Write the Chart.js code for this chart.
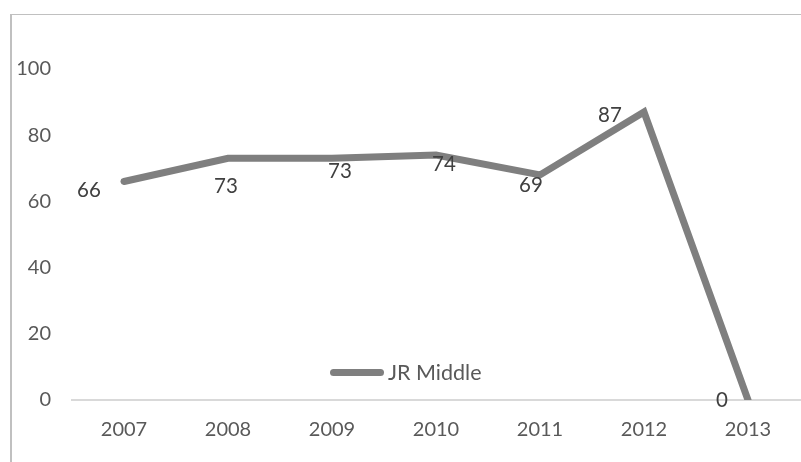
<!DOCTYPE html>
<html>
<head>
<meta charset="utf-8">
<script src="https://cdn.jsdelivr.net/npm/chart.js@4/dist/chart.umd.min.js"></script>
<style>
  html, body { margin: 0; padding: 0; background: #ffffff; }
  #wrap { position: relative; width: 801px; height: 462px; overflow: hidden; }
  #frame { position: absolute; left: 10px; top: 14px; width: 800px; height: 460px;
           border-left: 2px solid #c0c0c0; border-top: 1px solid #c0c0c0; }
  #c { position: absolute; left: 0; top: 0; }
  #legend { position: absolute; left: 330px; top: 359px; height: 26px; display: flex; align-items: center;
            font-family: Lato, sans-serif; font-size: 21.5px; color: #595959; }
  #legend .sw { width: 54px; height: 7px; border-radius: 4px; background: #7f7f7f; margin-right: 4px; }
</style>
</head>
<body>
<div id="wrap">
  <div id="frame"></div>
  <canvas id="c" width="801" height="462"></canvas>
  <div id="legend"><span class="sw"></span><span id="legendText"></span></div>
</div>
<script>
const years = ['2007', '2008', '2009', '2010', '2011', '2012', '2013'];
const seriesName = 'JR Middle';
const jrMiddle = [66, 73, 73, 74, 68, 87, 0];
const valueLabels = ['66', '73', '73', '74', '69', '87', '0'];
const yTicks = [0, 20, 40, 60, 80, 100];

document.getElementById('legendText').textContent = seriesName;

// label placement offsets (relative to each point), kept apart from the data
const labelOffsets = [[-35, 9], [-2, 28], [8, 13], [8, 9], [-9, 10], [-34, 3], [-26, 0]];

const valueLabelPlugin = {
  id: 'valueLabels',
  afterDatasetsDraw(chart) {
    const ctx = chart.ctx;
    const meta = chart.getDatasetMeta(0);
    ctx.save();
    ctx.font = '20.5px Lato, sans-serif';
    ctx.fillStyle = '#404040';
    ctx.textAlign = 'center';
    ctx.textBaseline = 'middle';
    meta.data.forEach((pt, i) => {
      const off = labelOffsets[i];
      ctx.fillText(valueLabels[i], pt.x + off[0], pt.y + off[1]);
    });
    ctx.restore();
  }
};

Chart.defaults.font.family = 'Lato, sans-serif';
Chart.defaults.font.size = 20;
Chart.defaults.color = '#595959';

new Chart(document.getElementById('c'), {
  type: 'line',
  data: {
    labels: years,
    datasets: [{
      label: seriesName,
      data: jrMiddle,
      borderColor: '#7f7f7f',
      backgroundColor: '#7f7f7f',
      borderWidth: 7,
      pointRadius: 0,
      tension: 0,
      borderCapStyle: 'round',
      borderJoinStyle: 'miter',
      clip: { left: 20, top: 20, right: 20, bottom: 0 }
    }]
  },
  options: {
    responsive: false,
    animation: false,
    events: [],
    layout: { padding: { left: 12, right: 1, top: 69, bottom: 20 } },
    plugins: { legend: { display: false }, tooltip: { enabled: false } },
    scales: {
      x: {
        offset: true,
        grid: { display: false, drawTicks: false },
        border: { display: true, color: '#d9d9d9', width: 2 },
        ticks: { padding: 18, color: '#595959', font: { size: 20 }, maxRotation: 0 },
        afterFit(scale) { scale.height = 42; }
      },
      y: {
        min: 0, max: 100,
        afterBuildTicks(scale) { scale.ticks = yTicks.map(v => ({ value: v })); },
        grid: { display: false, drawTicks: false },
        border: { display: false },
        ticks: { padding: 21, color: '#595959', font: { size: 20 } },
        afterFit(scale) { scale.width = 60; }
      }
    }
  },
  plugins: [valueLabelPlugin]
});
</script>
</body>
</html>
